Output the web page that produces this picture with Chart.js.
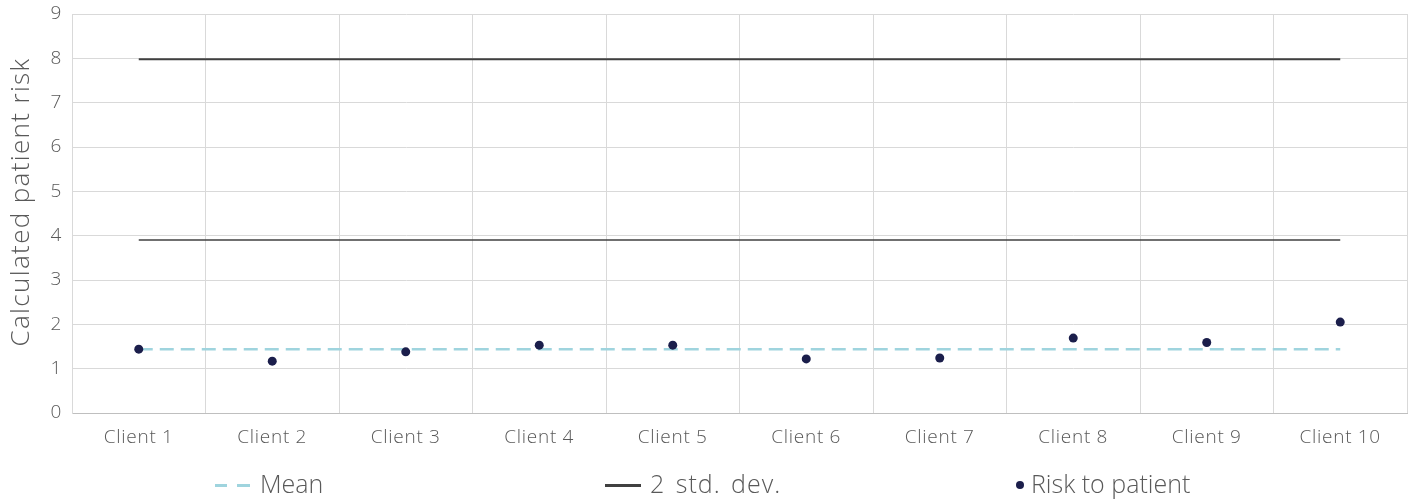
<!DOCTYPE html>
<html>
<head>
<meta charset="utf-8">
<script src="https://cdn.jsdelivr.net/npm/chart.js@4/dist/chart.umd.min.js"></script>
<style>
  html, body { margin: 0; padding: 0; background: #fff; }
  #wrap { position: relative; width: 1416px; height: 499px; }
  canvas { position: absolute; left: 0; top: 0; }
  .lg { position: absolute; top: 467px; height: 32px; font-family: "Open Sans", "Liberation Sans", sans-serif; font-weight: 300; font-size: 25px; color: #595959; line-height: 32px; white-space: nowrap; }
  .sym { display: inline-block; vertical-align: middle; position: relative; top: -1px; }
</style>
</head>
<body>
<div id="wrap">
  <canvas id="c" width="1416" height="499"></canvas>
  <div class="lg" style="left:215px;"><span class="sym" style="width:12px;height:2.5px;background:#9fd4de;margin-right:10px;"></span><span class="sym" style="width:13px;height:2.5px;background:#9fd4de;margin-right:10px;"></span>Mean</div>
  <div class="lg" style="left:605px;"><span class="sym" style="width:36px;height:2.5px;background:#404040;margin-right:9px;"></span><span style="letter-spacing:1px;word-spacing:3px;">2 std. dev.</span></div>
  <div class="lg" style="left:1016px;"><span class="sym" style="width:8px;height:8px;border-radius:50%;background:#1b1e4b;margin-right:7px;"></span>Risk to patient</div>
</div>
<script>
const categories = ["Client 1","Client 2","Client 3","Client 4","Client 5","Client 6","Client 7","Client 8","Client 9","Client 10"];
const riskValues = [1.44, 1.17, 1.38, 1.53, 1.53, 1.22, 1.24, 1.69, 1.59, 2.05];
const meanValues = [1.44, 1.44, 1.44, 1.44, 1.44, 1.44, 1.44, 1.44, 1.44, 1.44];
const upperValues = [7.98, 7.98, 7.98, 7.98, 7.98, 7.98, 7.98, 7.98, 7.98, 7.98];
const lowerValues = [3.90, 3.90, 3.90, 3.90, 3.90, 3.90, 3.90, 3.90, 3.90, 3.90];
const yTicks = [0,1,2,3,4,5,6,7,8,9];
const yTitle = 'Calculated patient risk';

const FONT = "'Open Sans', 'Liberation Sans', sans-serif";

const spacingPlugin = {
  id: 'spacing',
  beforeDraw(chart) { chart.ctx.letterSpacing = '0.7px'; }
};
const titlePlugin = {
  id: 'ytitle',
  afterDraw(chart) {
    const ctx = chart.ctx;
    ctx.save();
    ctx.letterSpacing = '1.35px';
    ctx.fillStyle = '#595959';
    ctx.font = "300 26px " + FONT;
    ctx.textAlign = 'center';
    ctx.textBaseline = 'middle';
    ctx.translate(22, 202);
    ctx.rotate(-Math.PI / 2);
    ctx.fillText(yTitle, 0, 0);
    ctx.restore();
  }
};

new Chart(document.getElementById('c'), {
  type: 'line',
  data: {
    labels: categories,
    datasets: [
      { label: 'Risk to patient', data: riskValues, showLine: false, pointRadius: 4.5, pointHoverRadius: 4.5,
        pointBackgroundColor: '#1b1e4b', pointBorderColor: '#1b1e4b', borderWidth: 0, order: 0 },
      { label: 'Mean', data: meanValues, borderColor: '#9fd4de', borderWidth: 2.5, borderDash: [14, 7],
        pointRadius: 0, fill: false, order: 3 },
      { label: '2 std. dev.', data: upperValues, borderColor: '#404040', borderWidth: 2, pointRadius: 0, fill: false, order: 2 },
      { label: '2 std. dev. low', data: lowerValues, borderColor: '#404040', borderWidth: 1.5, pointRadius: 0, fill: false, order: 2 }
    ]
  },
  plugins: [spacingPlugin, titlePlugin],
  options: {
    responsive: false,
    animation: false,
    layout: { padding: { left: 0, right: 9, top: 14, bottom: 0 } },
    plugins: { legend: { display: false }, tooltip: { enabled: false } },
    scales: {
      x: {
        offset: true,
        grid: { offset: true, color: '#d9d9d9', lineWidth: 1, drawTicks: false },
        border: { color: '#bfbfbf', width: 1 },
        ticks: { color: '#595959', font: { family: FONT, size: 19, weight: 300 }, padding: 13, maxRotation: 0 },
        afterFit: s => { s.height = 86; s.paddingLeft = 0; s.paddingRight = 0; }
      },
      y: {
        min: 0, max: 9,
        afterBuildTicks: s => { s.ticks = yTicks.map(v => ({ value: v })); },
        grid: { color: '#d9d9d9', lineWidth: 1, drawTicks: false },
        border: { color: '#d9d9d9', width: 1 },
        ticks: { color: '#595959', font: { family: FONT, size: 19, weight: 300 }, padding: 10 },
        afterFit: s => { s.width = 72; s.paddingTop = 0; s.paddingBottom = 0; }
      }
    }
  }
});
</script>
</body>
</html>
